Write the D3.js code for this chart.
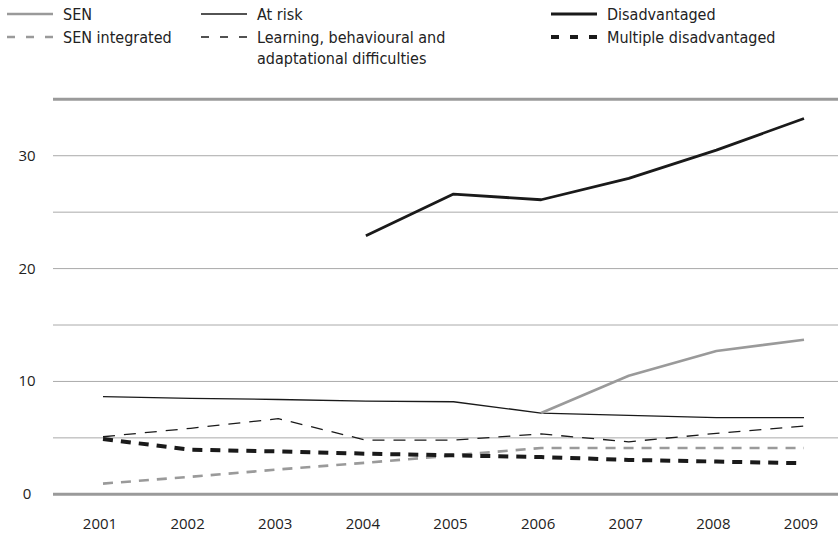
<!DOCTYPE html>
<html><head><meta charset="utf-8">
<script src="https://cdn.jsdelivr.net/npm/d3@7/dist/d3.min.js"></script>
<style>body{margin:0;background:#fff;} svg{display:block;}
.lg{font-family:"DejaVu Sans Condensed","DejaVu Sans",sans-serif;font-stretch:condensed;font-size:16px;fill:#222;}
.tk{font-family:"Open Sans",sans-serif;font-size:15px;fill:#222;}
</style>
</head><body>
<svg id="c" width="838" height="534"></svg>
<script>
const years = [2001,2002,2003,2004,2005,2006,2007,2008,2009];
const sen = [null,null,null,null,null,7.2,10.5,12.7,13.7];
const atRisk = [8.65,8.5,8.4,8.25,8.2,7.2,7.0,6.8,6.8];
const disadvantaged = [null,null,null,22.9,26.6,26.1,28.0,30.5,33.3];
const senIntegrated = [0.95,1.55,2.2,2.8,3.45,4.1,4.1,4.1,4.1];
const learning = [5.1,5.85,6.7,4.8,4.8,5.35,4.65,5.4,6.05];
const multiple = [4.9,3.95,3.8,3.6,3.45,3.3,3.05,2.9,2.75];
const yTicks = [0,10,20,30];
const gridTicks = [5,10,15,20,25,30];

const series = [
  {name:"SEN", values:sen, color:"#9a9a9a", width:2.6, dash:null, col:0, row:0},
  {name:"SEN integrated", values:senIntegrated, color:"#9a9a9a", width:2.6, dash:"10,8", col:0, row:1},
  {name:"At risk", values:atRisk, color:"#1a1a1a", width:1.3, dash:null, col:1, row:0},
  {name:"Learning, behavioural and", name2:"adaptational difficulties", values:learning, color:"#1a1a1a", width:1.3, dash:"12,9", col:1, row:1},
  {name:"Disadvantaged", values:disadvantaged, color:"#1a1a1a", width:2.8, dash:null, col:2, row:0},
  {name:"Multiple disadvantaged", values:multiple, color:"#1a1a1a", width:4, dash:"10,8", col:2, row:1}
];

const svg = d3.select("#c");
const left = 53, right = 838;
const x = d3.scalePoint().domain(years).range([103, 804]);
const y = d3.scaleLinear().domain([0,35]).range([494.3, 99.3]);

svg.append("g").selectAll("line").data(gridTicks).join("line")
  .attr("x1", left).attr("x2", right)
  .attr("y1", d=>y(d)).attr("y2", d=>y(d))
  .attr("stroke", "#aaa").attr("stroke-width", 1);
svg.append("g").selectAll("line").data([0,35]).join("line")
  .attr("x1", left).attr("x2", right)
  .attr("y1", d=>y(d)).attr("y2", d=>y(d))
  .attr("stroke", "#9a9a9a").attr("stroke-width", 3);

svg.append("g").selectAll("text").data(yTicks).join("text")
  .attr("class","tk").attr("x", 27).attr("y", d=>y(d)+5)
  .attr("text-anchor","middle").text(d=>d);

svg.append("g").selectAll("text").data(years).join("text")
  .attr("class","tk").attr("x", d=>x(d)-3).attr("y", 529)
  .attr("text-anchor","middle").text(d=>d);

const line = d3.line().defined(d=>d[1]!=null).x(d=>x(d[0])).y(d=>y(d[1]));
const drawOrder = [1,3,5,2,0,4];
drawOrder.forEach(i=>{
  const s = series[i];
  svg.append("path")
    .attr("d", line(years.map((yr,j)=>[yr, s.values[j]])))
    .attr("fill","none").attr("stroke", s.color).attr("stroke-width", s.width)
    .attr("stroke-dasharray", s.dash).attr("stroke-linejoin","round");
});

const colX = [7, 201, 551];
const rowY = [14, 37];
const lg = svg.append("g");
series.forEach(s=>{
  const lx = colX[s.col], ly = rowY[s.row];
  lg.append("line").attr("x1", lx).attr("x2", lx+46).attr("y1", ly).attr("y2", ly)
    .attr("stroke", s.color).attr("stroke-width", s.width)
    .attr("stroke-dasharray", s.dash ? "8,11" : null);
  lg.append("text").attr("class","lg").attr("x", lx+56).attr("y", ly+6).text(s.name);
  if (s.name2) {
    lg.append("text").attr("class","lg").attr("x", lx+56).attr("y", ly+27).text(s.name2);
  }
});
</script>
</body></html>
